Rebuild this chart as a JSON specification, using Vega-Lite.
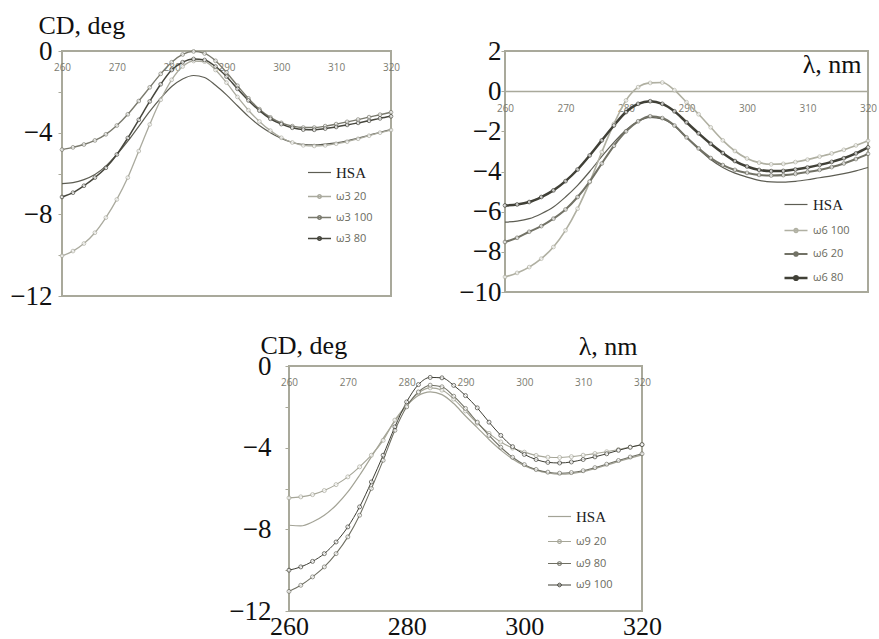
{
"$schema": "https://vega.github.io/schema/vega-lite/v6.json",
"background": "white",
"padding": {"left": 8, "top": 11, "right": 0, "bottom": 0},
"spacing": 21,
"config": {
  "view": {"stroke": "#a9a99b", "strokeWidth": 2},
  "axis": {"grid": false, "domain": false, "labelFlush": false, "tickColor": "#a9a99b", "titleFontWeight": "normal"},
  "legend": {"padding": 0, "title": null}
},
"resolve": {"scale": {"color": "independent", "strokeWidth": "independent"}, "legend": {"color": "independent"}},
"datasets": {
"p1": [
{"s":"HSA","x":260,"y":-6.5},{"s":"HSA","x":262,"y":-6.45},{"s":"HSA","x":264,"y":-6.3},{"s":"HSA","x":266,"y":-6.05},{"s":"HSA","x":268,"y":-5.64},{"s":"HSA","x":270,"y":-5.07},{"s":"HSA","x":272,"y":-4.42},{"s":"HSA","x":274,"y":-3.69},{"s":"HSA","x":276,"y":-2.96},{"s":"HSA","x":278,"y":-2.31},{"s":"HSA","x":280,"y":-1.74},{"s":"HSA","x":282,"y":-1.37},{"s":"HSA","x":284,"y":-1.2},{"s":"HSA","x":286,"y":-1.3},{"s":"HSA","x":288,"y":-1.68},{"s":"HSA","x":290,"y":-2.15},{"s":"HSA","x":292,"y":-2.68},{"s":"HSA","x":294,"y":-3.2},{"s":"HSA","x":296,"y":-3.65},{"s":"HSA","x":298,"y":-4.0},{"s":"HSA","x":300,"y":-4.28},{"s":"HSA","x":302,"y":-4.48},{"s":"HSA","x":304,"y":-4.58},{"s":"HSA","x":306,"y":-4.6},{"s":"HSA","x":308,"y":-4.56},{"s":"HSA","x":310,"y":-4.5},{"s":"HSA","x":312,"y":-4.4},{"s":"HSA","x":314,"y":-4.27},{"s":"HSA","x":316,"y":-4.13},{"s":"HSA","x":318,"y":-3.98},{"s":"HSA","x":320,"y":-3.85},
{"s":"ω3 20","x":260,"y":-10.03},{"s":"ω3 20","x":262,"y":-9.8},{"s":"ω3 20","x":264,"y":-9.43},{"s":"ω3 20","x":266,"y":-8.9},{"s":"ω3 20","x":268,"y":-8.16},{"s":"ω3 20","x":270,"y":-7.27},{"s":"ω3 20","x":272,"y":-6.2},{"s":"ω3 20","x":274,"y":-4.9},{"s":"ω3 20","x":276,"y":-3.6},{"s":"ω3 20","x":278,"y":-2.39},{"s":"ω3 20","x":280,"y":-1.41},{"s":"ω3 20","x":282,"y":-0.76},{"s":"ω3 20","x":284,"y":-0.49},{"s":"ω3 20","x":286,"y":-0.52},{"s":"ω3 20","x":288,"y":-0.93},{"s":"ω3 20","x":290,"y":-1.55},{"s":"ω3 20","x":292,"y":-2.25},{"s":"ω3 20","x":294,"y":-2.9},{"s":"ω3 20","x":296,"y":-3.45},{"s":"ω3 20","x":298,"y":-3.9},{"s":"ω3 20","x":300,"y":-4.25},{"s":"ω3 20","x":302,"y":-4.48},{"s":"ω3 20","x":304,"y":-4.62},{"s":"ω3 20","x":306,"y":-4.65},{"s":"ω3 20","x":308,"y":-4.62},{"s":"ω3 20","x":310,"y":-4.54},{"s":"ω3 20","x":312,"y":-4.44},{"s":"ω3 20","x":314,"y":-4.3},{"s":"ω3 20","x":316,"y":-4.15},{"s":"ω3 20","x":318,"y":-4.0},{"s":"ω3 20","x":320,"y":-3.87},
{"s":"ω3 100","x":260,"y":-4.83},{"s":"ω3 100","x":262,"y":-4.72},{"s":"ω3 100","x":264,"y":-4.58},{"s":"ω3 100","x":266,"y":-4.38},{"s":"ω3 100","x":268,"y":-4.08},{"s":"ω3 100","x":270,"y":-3.65},{"s":"ω3 100","x":272,"y":-3.1},{"s":"ω3 100","x":274,"y":-2.45},{"s":"ω3 100","x":276,"y":-1.78},{"s":"ω3 100","x":278,"y":-1.12},{"s":"ω3 100","x":280,"y":-0.55},{"s":"ω3 100","x":282,"y":-0.17},{"s":"ω3 100","x":284,"y":-0.02},{"s":"ω3 100","x":286,"y":-0.12},{"s":"ω3 100","x":288,"y":-0.48},{"s":"ω3 100","x":290,"y":-1.05},{"s":"ω3 100","x":292,"y":-1.7},{"s":"ω3 100","x":294,"y":-2.32},{"s":"ω3 100","x":296,"y":-2.85},{"s":"ω3 100","x":298,"y":-3.25},{"s":"ω3 100","x":300,"y":-3.52},{"s":"ω3 100","x":302,"y":-3.68},{"s":"ω3 100","x":304,"y":-3.75},{"s":"ω3 100","x":306,"y":-3.75},{"s":"ω3 100","x":308,"y":-3.68},{"s":"ω3 100","x":310,"y":-3.58},{"s":"ω3 100","x":312,"y":-3.47},{"s":"ω3 100","x":314,"y":-3.36},{"s":"ω3 100","x":316,"y":-3.24},{"s":"ω3 100","x":318,"y":-3.12},{"s":"ω3 100","x":320,"y":-3.0},
{"s":"ω3 80","x":260,"y":-7.15},{"s":"ω3 80","x":262,"y":-6.94},{"s":"ω3 80","x":264,"y":-6.6},{"s":"ω3 80","x":266,"y":-6.2},{"s":"ω3 80","x":268,"y":-5.72},{"s":"ω3 80","x":270,"y":-5.07},{"s":"ω3 80","x":272,"y":-4.26},{"s":"ω3 80","x":274,"y":-3.37},{"s":"ω3 80","x":276,"y":-2.47},{"s":"ω3 80","x":278,"y":-1.63},{"s":"ω3 80","x":280,"y":-0.93},{"s":"ω3 80","x":282,"y":-0.55},{"s":"ω3 80","x":284,"y":-0.39},{"s":"ω3 80","x":286,"y":-0.44},{"s":"ω3 80","x":288,"y":-0.76},{"s":"ω3 80","x":290,"y":-1.25},{"s":"ω3 80","x":292,"y":-1.85},{"s":"ω3 80","x":294,"y":-2.42},{"s":"ω3 80","x":296,"y":-2.92},{"s":"ω3 80","x":298,"y":-3.32},{"s":"ω3 80","x":300,"y":-3.58},{"s":"ω3 80","x":302,"y":-3.76},{"s":"ω3 80","x":304,"y":-3.85},{"s":"ω3 80","x":306,"y":-3.86},{"s":"ω3 80","x":308,"y":-3.8},{"s":"ω3 80","x":310,"y":-3.72},{"s":"ω3 80","x":312,"y":-3.62},{"s":"ω3 80","x":314,"y":-3.52},{"s":"ω3 80","x":316,"y":-3.42},{"s":"ω3 80","x":318,"y":-3.3},{"s":"ω3 80","x":320,"y":-3.2}
],
"p2": [
{"s":"HSA","x":260,"y":-6.52},{"s":"HSA","x":262,"y":-6.47},{"s":"HSA","x":264,"y":-6.35},{"s":"HSA","x":266,"y":-6.1},{"s":"HSA","x":268,"y":-5.77},{"s":"HSA","x":270,"y":-5.27},{"s":"HSA","x":272,"y":-4.69},{"s":"HSA","x":274,"y":-4.0},{"s":"HSA","x":276,"y":-3.25},{"s":"HSA","x":278,"y":-2.55},{"s":"HSA","x":280,"y":-1.93},{"s":"HSA","x":282,"y":-1.5},{"s":"HSA","x":284,"y":-1.3},{"s":"HSA","x":286,"y":-1.38},{"s":"HSA","x":288,"y":-1.72},{"s":"HSA","x":290,"y":-2.3},{"s":"HSA","x":292,"y":-2.88},{"s":"HSA","x":294,"y":-3.4},{"s":"HSA","x":296,"y":-3.8},{"s":"HSA","x":298,"y":-4.08},{"s":"HSA","x":300,"y":-4.28},{"s":"HSA","x":302,"y":-4.44},{"s":"HSA","x":304,"y":-4.52},{"s":"HSA","x":306,"y":-4.53},{"s":"HSA","x":308,"y":-4.49},{"s":"HSA","x":310,"y":-4.41},{"s":"HSA","x":312,"y":-4.31},{"s":"HSA","x":314,"y":-4.22},{"s":"HSA","x":316,"y":-4.11},{"s":"HSA","x":318,"y":-3.97},{"s":"HSA","x":320,"y":-3.8},
{"s":"ω6 100","x":260,"y":-9.25},{"s":"ω6 100","x":262,"y":-9.05},{"s":"ω6 100","x":264,"y":-8.76},{"s":"ω6 100","x":266,"y":-8.34},{"s":"ω6 100","x":268,"y":-7.76},{"s":"ω6 100","x":270,"y":-6.93},{"s":"ω6 100","x":272,"y":-5.85},{"s":"ω6 100","x":274,"y":-4.53},{"s":"ω6 100","x":276,"y":-3.03},{"s":"ω6 100","x":278,"y":-1.63},{"s":"ω6 100","x":280,"y":-0.46},{"s":"ω6 100","x":282,"y":0.2},{"s":"ω6 100","x":284,"y":0.41},{"s":"ω6 100","x":286,"y":0.43},{"s":"ω6 100","x":288,"y":0.05},{"s":"ω6 100","x":290,"y":-0.55},{"s":"ω6 100","x":292,"y":-1.15},{"s":"ω6 100","x":294,"y":-1.8},{"s":"ω6 100","x":296,"y":-2.45},{"s":"ω6 100","x":298,"y":-2.98},{"s":"ω6 100","x":300,"y":-3.35},{"s":"ω6 100","x":302,"y":-3.56},{"s":"ω6 100","x":304,"y":-3.64},{"s":"ω6 100","x":306,"y":-3.62},{"s":"ω6 100","x":308,"y":-3.53},{"s":"ω6 100","x":310,"y":-3.41},{"s":"ω6 100","x":312,"y":-3.26},{"s":"ω6 100","x":314,"y":-3.1},{"s":"ω6 100","x":316,"y":-2.92},{"s":"ω6 100","x":318,"y":-2.7},{"s":"ω6 100","x":320,"y":-2.47},
{"s":"ω6 20","x":260,"y":-7.51},{"s":"ω6 20","x":262,"y":-7.3},{"s":"ω6 20","x":264,"y":-7.0},{"s":"ω6 20","x":266,"y":-6.72},{"s":"ω6 20","x":268,"y":-6.35},{"s":"ω6 20","x":270,"y":-5.89},{"s":"ω6 20","x":272,"y":-5.27},{"s":"ω6 20","x":274,"y":-4.5},{"s":"ω6 20","x":276,"y":-3.6},{"s":"ω6 20","x":278,"y":-2.72},{"s":"ω6 20","x":280,"y":-2.0},{"s":"ω6 20","x":282,"y":-1.5},{"s":"ω6 20","x":284,"y":-1.25},{"s":"ω6 20","x":286,"y":-1.34},{"s":"ω6 20","x":288,"y":-1.71},{"s":"ω6 20","x":290,"y":-2.3},{"s":"ω6 20","x":292,"y":-2.85},{"s":"ω6 20","x":294,"y":-3.33},{"s":"ω6 20","x":296,"y":-3.68},{"s":"ω6 20","x":298,"y":-3.92},{"s":"ω6 20","x":300,"y":-4.07},{"s":"ω6 20","x":302,"y":-4.17},{"s":"ω6 20","x":304,"y":-4.2},{"s":"ω6 20","x":306,"y":-4.18},{"s":"ω6 20","x":308,"y":-4.12},{"s":"ω6 20","x":310,"y":-4.03},{"s":"ω6 20","x":312,"y":-3.92},{"s":"ω6 20","x":314,"y":-3.78},{"s":"ω6 20","x":316,"y":-3.6},{"s":"ω6 20","x":318,"y":-3.38},{"s":"ω6 20","x":320,"y":-3.12},
{"s":"ω6 80","x":260,"y":-5.69},{"s":"ω6 80","x":262,"y":-5.64},{"s":"ω6 80","x":264,"y":-5.52},{"s":"ω6 80","x":266,"y":-5.27},{"s":"ω6 80","x":268,"y":-4.94},{"s":"ω6 80","x":270,"y":-4.48},{"s":"ω6 80","x":272,"y":-3.9},{"s":"ω6 80","x":274,"y":-3.2},{"s":"ω6 80","x":276,"y":-2.45},{"s":"ω6 80","x":278,"y":-1.71},{"s":"ω6 80","x":280,"y":-1.04},{"s":"ω6 80","x":282,"y":-0.63},{"s":"ω6 80","x":284,"y":-0.5},{"s":"ω6 80","x":286,"y":-0.63},{"s":"ω6 80","x":288,"y":-1.0},{"s":"ω6 80","x":290,"y":-1.55},{"s":"ω6 80","x":292,"y":-2.1},{"s":"ω6 80","x":294,"y":-2.62},{"s":"ω6 80","x":296,"y":-3.08},{"s":"ω6 80","x":298,"y":-3.48},{"s":"ω6 80","x":300,"y":-3.75},{"s":"ω6 80","x":302,"y":-3.92},{"s":"ω6 80","x":304,"y":-3.98},{"s":"ω6 80","x":306,"y":-3.97},{"s":"ω6 80","x":308,"y":-3.9},{"s":"ω6 80","x":310,"y":-3.8},{"s":"ω6 80","x":312,"y":-3.67},{"s":"ω6 80","x":314,"y":-3.52},{"s":"ω6 80","x":316,"y":-3.34},{"s":"ω6 80","x":318,"y":-3.1},{"s":"ω6 80","x":320,"y":-2.8}
],
"p3": [
{"s":"HSA","x":260,"y":-7.8},{"s":"HSA","x":262,"y":-7.83},{"s":"HSA","x":264,"y":-7.64},{"s":"HSA","x":266,"y":-7.31},{"s":"HSA","x":268,"y":-6.82},{"s":"HSA","x":270,"y":-6.17},{"s":"HSA","x":272,"y":-5.35},{"s":"HSA","x":274,"y":-4.45},{"s":"HSA","x":276,"y":-3.55},{"s":"HSA","x":278,"y":-2.7},{"s":"HSA","x":280,"y":-1.95},{"s":"HSA","x":282,"y":-1.45},{"s":"HSA","x":284,"y":-1.27},{"s":"HSA","x":286,"y":-1.4},{"s":"HSA","x":288,"y":-1.84},{"s":"HSA","x":290,"y":-2.45},{"s":"HSA","x":292,"y":-3.02},{"s":"HSA","x":294,"y":-3.6},{"s":"HSA","x":296,"y":-4.12},{"s":"HSA","x":298,"y":-4.55},{"s":"HSA","x":300,"y":-4.88},{"s":"HSA","x":302,"y":-5.1},{"s":"HSA","x":304,"y":-5.24},{"s":"HSA","x":306,"y":-5.3},{"s":"HSA","x":308,"y":-5.27},{"s":"HSA","x":310,"y":-5.18},{"s":"HSA","x":312,"y":-5.03},{"s":"HSA","x":314,"y":-4.86},{"s":"HSA","x":316,"y":-4.68},{"s":"HSA","x":318,"y":-4.51},{"s":"HSA","x":320,"y":-4.35},
{"s":"ω9 20","x":260,"y":-6.46},{"s":"ω9 20","x":262,"y":-6.41},{"s":"ω9 20","x":264,"y":-6.3},{"s":"ω9 20","x":266,"y":-6.1},{"s":"ω9 20","x":268,"y":-5.81},{"s":"ω9 20","x":270,"y":-5.43},{"s":"ω9 20","x":272,"y":-4.94},{"s":"ω9 20","x":274,"y":-4.37},{"s":"ω9 20","x":276,"y":-3.64},{"s":"ω9 20","x":278,"y":-2.65},{"s":"ω9 20","x":280,"y":-1.92},{"s":"ω9 20","x":282,"y":-1.32},{"s":"ω9 20","x":284,"y":-1.07},{"s":"ω9 20","x":286,"y":-1.18},{"s":"ω9 20","x":288,"y":-1.62},{"s":"ω9 20","x":290,"y":-2.2},{"s":"ω9 20","x":292,"y":-2.8},{"s":"ω9 20","x":294,"y":-3.3},{"s":"ω9 20","x":296,"y":-3.72},{"s":"ω9 20","x":298,"y":-4.02},{"s":"ω9 20","x":300,"y":-4.22},{"s":"ω9 20","x":302,"y":-4.38},{"s":"ω9 20","x":304,"y":-4.47},{"s":"ω9 20","x":306,"y":-4.48},{"s":"ω9 20","x":308,"y":-4.44},{"s":"ω9 20","x":310,"y":-4.37},{"s":"ω9 20","x":312,"y":-4.29},{"s":"ω9 20","x":314,"y":-4.2},{"s":"ω9 20","x":316,"y":-4.09},{"s":"ω9 20","x":318,"y":-3.97},{"s":"ω9 20","x":320,"y":-3.85},
{"s":"ω9 80","x":260,"y":-11.04},{"s":"ω9 80","x":262,"y":-10.74},{"s":"ω9 80","x":264,"y":-10.33},{"s":"ω9 80","x":266,"y":-9.84},{"s":"ω9 80","x":268,"y":-9.19},{"s":"ω9 80","x":270,"y":-8.37},{"s":"ω9 80","x":272,"y":-7.31},{"s":"ω9 80","x":274,"y":-6.0},{"s":"ω9 80","x":276,"y":-4.62},{"s":"ω9 80","x":278,"y":-3.15},{"s":"ω9 80","x":280,"y":-2.0},{"s":"ω9 80","x":282,"y":-1.27},{"s":"ω9 80","x":284,"y":-0.94},{"s":"ω9 80","x":286,"y":-1.02},{"s":"ω9 80","x":288,"y":-1.48},{"s":"ω9 80","x":290,"y":-2.08},{"s":"ω9 80","x":292,"y":-2.75},{"s":"ω9 80","x":294,"y":-3.4},{"s":"ω9 80","x":296,"y":-3.98},{"s":"ω9 80","x":298,"y":-4.47},{"s":"ω9 80","x":300,"y":-4.83},{"s":"ω9 80","x":302,"y":-5.07},{"s":"ω9 80","x":304,"y":-5.2},{"s":"ω9 80","x":306,"y":-5.25},{"s":"ω9 80","x":308,"y":-5.22},{"s":"ω9 80","x":310,"y":-5.13},{"s":"ω9 80","x":312,"y":-4.98},{"s":"ω9 80","x":314,"y":-4.81},{"s":"ω9 80","x":316,"y":-4.63},{"s":"ω9 80","x":318,"y":-4.46},{"s":"ω9 80","x":320,"y":-4.3},
{"s":"ω9 100","x":260,"y":-10.0},{"s":"ω9 100","x":262,"y":-9.84},{"s":"ω9 100","x":264,"y":-9.57},{"s":"ω9 100","x":266,"y":-9.19},{"s":"ω9 100","x":268,"y":-8.62},{"s":"ω9 100","x":270,"y":-7.88},{"s":"ω9 100","x":272,"y":-6.9},{"s":"ω9 100","x":274,"y":-5.68},{"s":"ω9 100","x":276,"y":-4.37},{"s":"ω9 100","x":278,"y":-2.98},{"s":"ω9 100","x":280,"y":-1.76},{"s":"ω9 100","x":282,"y":-0.91},{"s":"ω9 100","x":284,"y":-0.56},{"s":"ω9 100","x":286,"y":-0.58},{"s":"ω9 100","x":288,"y":-0.95},{"s":"ω9 100","x":290,"y":-1.45},{"s":"ω9 100","x":292,"y":-2.05},{"s":"ω9 100","x":294,"y":-2.75},{"s":"ω9 100","x":296,"y":-3.4},{"s":"ω9 100","x":298,"y":-3.95},{"s":"ω9 100","x":300,"y":-4.33},{"s":"ω9 100","x":302,"y":-4.58},{"s":"ω9 100","x":304,"y":-4.72},{"s":"ω9 100","x":306,"y":-4.75},{"s":"ω9 100","x":308,"y":-4.7},{"s":"ω9 100","x":310,"y":-4.58},{"s":"ω9 100","x":312,"y":-4.45},{"s":"ω9 100","x":314,"y":-4.3},{"s":"ω9 100","x":316,"y":-4.13},{"s":"ω9 100","x":318,"y":-3.98},{"s":"ω9 100","x":320,"y":-3.85}
]
},
"vconcat": [
{
"hconcat": [
{
"width": 329, "height": 245,
"data": {"name": "p1"},
"layer": [
{
"mark": {"type": "line", "interpolate": "monotone"},
"encoding": {
"x": {"field": "x", "type": "quantitative", "scale": {"domain": [260, 320], "nice": false, "zero": false},
 "axis": {"orient": "bottom", "offset": -245, "values": [260,270,280,290,300,310,320], "ticks": false, "labelPadding": 11, "labelFont": "Open Sans", "labelFontSize": 10, "labelColor": "#7b7b70", "title": null}},
"y": {"field": "y", "type": "quantitative", "scale": {"domain": [-12, 0], "nice": false, "zero": false},
 "axis": {"values": [0,-2,-4,-6,-8,-10,-12], "labelExpr": "datum.value % 4 == 0 ? datum.label : ''", "tickSize": 4, "labelPadding": 6, "labelFont": "Liberation Serif", "labelFontSize": 27, "labelColor": "#111111",
  "title": "CD, deg", "titleAngle": 0, "titleAlign": "left", "titleBaseline": "alphabetic", "titleX": -24, "titleY": -18, "titleFont": "Liberation Serif", "titleFontSize": 26, "titleColor": "#111111"}},
"color": {"field": "s", "type": "nominal",
 "scale": {"domain": ["HSA", "ω3 20", "ω3 100", "ω3 80"], "range": ["#5d5d53", "#aaaa9e", "#7a7a6e", "#46463d"]},
 "legend": {"orient": "none", "legendX": 245, "legendY": 109, "symbolType": "stroke", "symbolSize": 529, "rowPadding": 3, "labelOffset": 4, "labelLimit": 0,
  "encode": {
   "symbols": {"update": {"shape": {"signal": "datum.value === 'HSA' ? 'stroke' : 'M-1,0H1M0.16,0A0.16,0.16 0 1 1 -0.16,0A0.16,0.16 0 1 1 0.16,0'"}, "strokeWidth": {"signal": "datum.value === 'HSA' ? 1.2 : datum.value === 'ω3 20' ? 1.5 : 2.5"}, "fill": {"value": "white"}}},
   "labels": {"update": {"font": {"signal": "datum.value === 'HSA' ? 'Liberation Serif' : 'Open Sans'"}, "fontSize": {"signal": "datum.value === 'HSA' ? 15 : 11"}, "fill": {"signal": "datum.value === 'HSA' ? '#222222' : '#6b6b60'"}}}
  }}},
"strokeWidth": {"field": "s", "type": "nominal", "scale": {"domain": ["HSA", "ω3 20", "ω3 100", "ω3 80"], "range": [1.2, 1.5, 2.5, 2.5]}, "legend": null}
}
},
{
"transform": [{"filter": "datum.s !== 'HSA'"}],
"mark": {"type": "point", "filled": false, "fill": "white", "size": 14, "strokeWidth": 1},
"encoding": {
"x": {"field": "x", "type": "quantitative"},
"y": {"field": "y", "type": "quantitative"},
"color": {"field": "s", "type": "nominal", "legend": null}
}
}
]
},
{
"width": 363, "height": 241,
"data": {"name": "p2"},
"layer": [
{
"mark": {"type": "line", "interpolate": "monotone"},
"encoding": {
"x": {"field": "x", "type": "quantitative", "scale": {"domain": [260, 320], "nice": false, "zero": false},
 "axis": {"orient": "bottom", "offset": -201, "values": [260,270,280,290,300,310,320], "ticks": false, "domain": true, "domainColor": "#a9a99b", "domainWidth": 1.5, "labelPadding": 12, "labelFont": "Open Sans", "labelFontSize": 10, "labelColor": "#7b7b70",
  "title": "λ, nm", "titleAngle": 0, "titleAlign": "right", "titleBaseline": "alphabetic", "titleX": 356, "titleY": -19, "titleFont": "Liberation Serif", "titleFontSize": 26, "titleColor": "#111111"}},
"y": {"field": "y", "type": "quantitative", "scale": {"domain": [-10, 2], "nice": false, "zero": false},
 "axis": {"values": [2,0,-2,-4,-6,-8,-10], "tickSize": 4, "labelPadding": 0, "labelFont": "Liberation Serif", "labelFontSize": 27, "labelColor": "#111111", "title": null}},
"color": {"field": "s", "type": "nominal",
 "scale": {"domain": ["HSA", "ω6 100", "ω6 20", "ω6 80"], "range": ["#5d5d53", "#b0b0a2", "#727266", "#404037"]},
 "legend": {"orient": "none", "legendX": 278, "legendY": 141, "symbolType": "stroke", "symbolSize": 529, "rowPadding": 5, "labelOffset": 4, "labelLimit": 0,
  "encode": {
   "symbols": {"update": {"shape": {"signal": "datum.value === 'HSA' ? 'stroke' : 'M-1,0H1M0.16,0A0.16,0.16 0 1 1 -0.16,0A0.16,0.16 0 1 1 0.16,0'"}, "strokeWidth": {"signal": "datum.value === 'HSA' ? 1.2 : datum.value === 'ω6 20' ? 1.5 : 2.5"}, "fill": {"value": "white"}}},
   "labels": {"update": {"font": {"signal": "datum.value === 'HSA' ? 'Liberation Serif' : 'Open Sans'"}, "fontSize": {"signal": "datum.value === 'HSA' ? 15 : 11"}, "fill": {"signal": "datum.value === 'HSA' ? '#222222' : '#6b6b60'"}}}
  }}},
"strokeWidth": {"field": "s", "type": "nominal", "scale": {"domain": ["HSA", "ω6 100", "ω6 20", "ω6 80"], "range": [1.2, 2.5, 1.5, 2.5]}, "legend": null}
}
},
{
"transform": [{"filter": "datum.s !== 'HSA'"}],
"mark": {"type": "point", "filled": false, "fill": "white", "size": 14, "strokeWidth": 1},
"encoding": {
"x": {"field": "x", "type": "quantitative"},
"y": {"field": "y", "type": "quantitative"},
"color": {"field": "s", "type": "nominal", "legend": null}
}
}
]
}
],
"spacing": 56,
"resolve": {"scale": {"color": "independent", "strokeWidth": "independent"}, "legend": {"color": "independent"}}
},
{
"hconcat": [
{
"width": 165, "height": 10,
"data": {"values": []},
"mark": "point",
"view": {"stroke": null, "fill": "white"}
},
{
"width": 353, "height": 245,
"data": {"name": "p3"},
"resolve": {"axis": {"x": "independent"}},
"layer": [
{
"mark": {"type": "line", "interpolate": "monotone"},
"encoding": {
"x": {"field": "x", "type": "quantitative", "scale": {"domain": [260, 320], "nice": false, "zero": false},
 "axis": {"orient": "bottom", "offset": -245, "values": [260,270,280,290,300,310,320], "ticks": false, "labelPadding": 11, "labelFont": "Open Sans", "labelFontSize": 10, "labelColor": "#7b7b70", "title": null}},
"y": {"field": "y", "type": "quantitative", "scale": {"domain": [-12, 0], "nice": false, "zero": false},
 "axis": {"values": [0,-2,-4,-6,-8,-10,-12], "labelExpr": "datum.value % 4 == 0 ? datum.label : ''", "tickSize": 4, "labelPadding": 14, "labelFont": "Liberation Serif", "labelFontSize": 27, "labelColor": "#111111",
  "title": "CD, deg", "titleAngle": 0, "titleAlign": "left", "titleBaseline": "alphabetic", "titleX": -29, "titleY": -13, "titleFont": "Liberation Serif", "titleFontSize": 26, "titleColor": "#111111"}},
"color": {"field": "s", "type": "nominal",
 "scale": {"domain": ["HSA", "ω9 20", "ω9 80", "ω9 100"], "range": ["#a3a396", "#a6a698", "#6f6f63", "#3e3e35"]},
 "legend": {"orient": "none", "legendX": 258, "legendY": 138, "symbolType": "stroke", "symbolSize": 529, "rowPadding": 4, "labelOffset": 4, "labelLimit": 0,
  "encode": {
   "symbols": {"update": {"shape": {"signal": "datum.value === 'HSA' ? 'stroke' : 'M-1,0H1M0.16,0A0.16,0.16 0 1 1 -0.16,0A0.16,0.16 0 1 1 0.16,0'"}, "strokeWidth": {"signal": "datum.value === 'HSA' ? 1.2 : datum.value === 'ω9 20' ? 1 : 2.5"}, "fill": {"value": "white"}}},
   "labels": {"update": {"font": {"signal": "datum.value === 'HSA' ? 'Liberation Serif' : 'Open Sans'"}, "fontSize": {"signal": "datum.value === 'HSA' ? 15 : 11"}, "fill": {"signal": "datum.value === 'HSA' ? '#222222' : '#6b6b60'"}}}
  }}},
"strokeWidth": {"field": "s", "type": "nominal", "scale": {"domain": ["HSA", "ω9 20", "ω9 80", "ω9 100"], "range": [1.2, 1, 2.5, 2.5]}, "legend": null}
}
},
{
"transform": [{"filter": "datum.s !== 'HSA'"}],
"mark": {"type": "point", "filled": false, "fill": "white", "size": 16, "strokeWidth": 1},
"encoding": {
"x": {"field": "x", "type": "quantitative",
 "axis": {"orient": "bottom", "values": [260, 280, 300, 320], "ticks": false, "labelPadding": 2, "labelFont": "Liberation Serif", "labelFontSize": 26, "labelColor": "#111111",
  "title": "λ, nm", "titleAngle": 0, "titleAlign": "right", "titleBaseline": "alphabetic", "titleX": 348, "titleY": -257, "titleFont": "Liberation Serif", "titleFontSize": 26, "titleColor": "#111111"}},
"y": {"field": "y", "type": "quantitative"},
"color": {"field": "s", "type": "nominal", "legend": null}
}
}
]
}
],
"spacing": 0,
"resolve": {"scale": {"color": "independent", "strokeWidth": "independent"}, "legend": {"color": "independent"}}
}
]
}
